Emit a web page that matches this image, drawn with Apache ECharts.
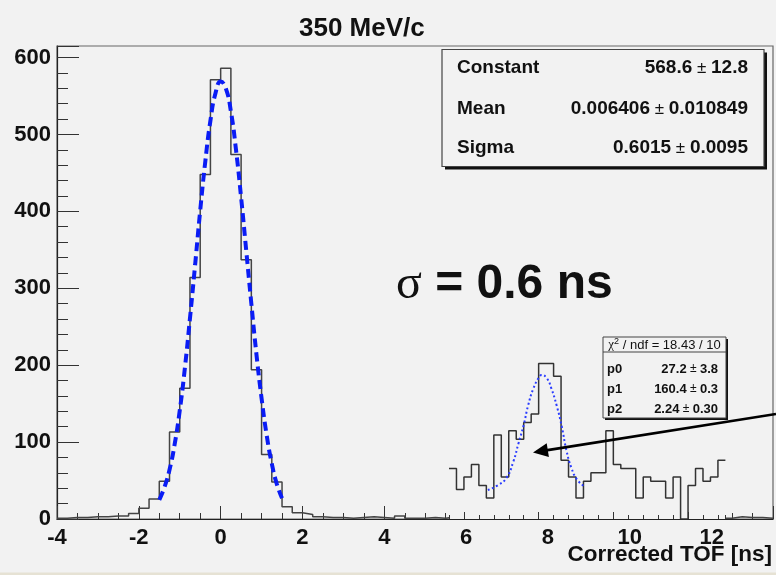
<!DOCTYPE html>
<html>
<head>
<meta charset="utf-8">
<script src="https://cdn.jsdelivr.net/npm/echarts@6/dist/echarts.min.js"></script>
<style>
  html, body { margin: 0; padding: 0; background: #f2f2f2; }
  #chart { width: 776px; height: 575px; }
</style>
</head>
<body>
<div id="chart"></div>
<script>
// main TOF histogram, 0.25 ns bins from -4 ns; null = hidden behind the inset
const mainStart = -4
const mainBinWidth = 0.25
const mainCounts = [
  1, 2, 2, 3, 3, 4, 4, 7, 14, 26,
  49, 113, 170, 314, 448, 571, 586, 474, 337, 194,
  84, 48, 16, 8, 6, 3, 2, 2, 1, 2,
  3, 2, 1, 4, 1, 1, 2, 1, 3,
  null, null, null, null, null, null, null, null, null, null, null, null, null,
  null, null, null, null, null, null, null, null, null, null, null, null, null,
  1, 3, 2, 2, 1
]

// gaussian fit
const fitX = [-1.5, -1.375, -1.25, -1.125, -1, -0.875, -0.75, -0.625, -0.5, -0.375, -0.25, -0.125, 0,
  0.125, 0.25, 0.375, 0.5, 0.625, 0.75, 0.875, 1, 1.125, 1.25, 1.375, 1.5]
const fitY = [25, 41, 64, 97, 141, 196, 261, 330, 401, 465, 518, 554, 569,
  560, 530, 480, 418, 349, 280, 214, 157, 109, 72, 45, 27]

// inset histogram (raw units, 1 unit bins starting at 148)
const insetStart = 148
const insetCounts = [
  12, 7, 10, 13, 8, 5, 20, 10, 21, 19,
  23, 25, 37, 37, 34, 14, 10, 5, 9, 11,
  11, 21, 13, 12, 12, 5, 10, 9, 9, 5,
  10, 0, 8, 12, 9, 10, 14
]
const insetFitX = [153.2, 154.6, 155.7, 156.6, 157.3, 158.0, 158.6, 159.3, 160.0, 160.4,
  161.1, 161.7, 162.4, 163.1, 163.7, 164.4, 165.1, 166.0]
const insetFitY = [6.9, 8.1, 9.8, 13.6, 18.0, 22.4, 27.1, 31.1, 33.6, 34.3,
  33.5, 31.1, 27.1, 22.0, 16.5, 12.1, 9.5, 7.9]

const mainTicks = [-4, -2, 0, 2, 4, 6, 8, 10, 12]
const insetMajorTicks = [150, 160, 170, 180]

const FONT = 'Liberation Sans'
const BG = '#f2f2f2'

function outline(start, width, counts) {
  const pts = []
  counts.forEach((v, i) => {
    const lo = start + i * width
    if (v === null) { pts.push([lo, '-']); return }
    pts.push([lo, v], [lo + width, v])
  })
  return pts
}

const chart = echarts.init(document.getElementById('chart'), null, { renderer: 'canvas' })

const tickStyle = { color: '#333', width: 1 }
const txt = (x, y, text, extra) => Object.assign({
  type: 'text', z: 100,
  style: Object.assign({ x, y, text, fill: '#111', font: 'bold 19px ' + FONT, verticalAlign: 'middle' }, extra || {})
})

chart.setOption({
  backgroundColor: BG,
  animation: false,
  title: {
    text: '350 MeV/c', left: 294, top: 11,
    textStyle: { fontFamily: FONT, fontWeight: 'bold', fontSize: 26, color: '#111' }
  },
  grid: [
    { left: 57, right: 2, top: 46, bottom: 56, show: true, borderColor: '#666', borderWidth: 1.2, backgroundColor: 'transparent' },
    { left: 449, width: 276.4, top: 351, bottom: 56, show: true, borderWidth: 0, backgroundColor: BG, z: 10 }
  ],
  xAxis: [
    {
      gridIndex: 0, type: 'value', min: -4, max: 13.5, interval: 2, position: 'bottom',
      axisLine: { onZero: false, lineStyle: { color: '#222', width: 1.2 } },
      axisTick: { inside: true, length: 13, lineStyle: tickStyle },
      splitLine: { show: false },
      axisLabel: {
        margin: 8, fontFamily: FONT, fontWeight: 'bold', fontSize: 22, color: '#111',
        formatter: v => mainTicks.includes(v) ? String(v) : ''
      }
    },
    {
      gridIndex: 0, type: 'value', min: -4, max: 13.5, interval: 0.5, position: 'bottom',
      axisLine: { show: false, onZero: false }, axisLabel: { show: false }, splitLine: { show: false },
      axisTick: { inside: true, length: 6, lineStyle: tickStyle }
    },
    {
      gridIndex: 1, type: 'value', min: 148, max: 185, interval: 2, position: 'bottom', z: 11,
      axisLine: { onZero: false, lineStyle: { color: '#222', width: 1.2 } },
      axisLabel: { show: false }, splitLine: { show: false },
      axisTick: { inside: true, length: 4, lineStyle: tickStyle }
    },
    {
      gridIndex: 1, type: 'value', min: 148, max: 185, position: 'bottom', z: 11,
      axisLine: { show: false, onZero: false }, axisLabel: { show: false, customValues: insetMajorTicks }, splitLine: { show: false },
      axisTick: { inside: true, length: 7, lineStyle: tickStyle, customValues: insetMajorTicks }
    }
  ],
  yAxis: [
    {
      gridIndex: 0, type: 'value', min: 0, max: 615, interval: 100, position: 'left',
      axisLine: { show: true, onZero: false, lineStyle: { color: '#222', width: 1.2 } },
      axisTick: { inside: true, length: 22, lineStyle: tickStyle },
      splitLine: { show: false },
      axisLabel: {
        margin: 6, fontFamily: FONT, fontWeight: 'bold', fontSize: 22, color: '#111',
        formatter: v => v % 100 === 0 ? String(v) : ''
      }
    },
    {
      gridIndex: 0, type: 'value', min: 0, max: 615, interval: 20, position: 'left',
      axisLine: { show: false, onZero: false }, axisLabel: { show: false }, splitLine: { show: false },
      axisTick: { inside: true, length: 11, lineStyle: tickStyle }
    },
    {
      gridIndex: 1, type: 'value', min: 0, max: 40, show: false,
      axisLine: { onZero: false }
    }
  ],
  series: [
    {
      type: 'line', xAxisIndex: 0, yAxisIndex: 0, symbol: 'none', z: 2,
      data: outline(mainStart, mainBinWidth, mainCounts),
      lineStyle: { color: '#444', width: 1.5 }
    },
    {
      type: 'line', xAxisIndex: 0, yAxisIndex: 0, symbol: 'none', z: 3, smooth: true,
      data: fitX.map((x, i) => [x, fitY[i]]),
      lineStyle: { color: '#0a1cf5', width: 4, type: [9, 5] }
    },
    {
      type: 'line', xAxisIndex: 2, yAxisIndex: 2, symbol: 'none', z: 12,
      data: outline(insetStart, 1, insetCounts),
      lineStyle: { color: '#333', width: 1.5 }
    },
    {
      type: 'line', xAxisIndex: 2, yAxisIndex: 2, symbol: 'none', z: 13, smooth: true,
      data: insetFitX.map((x, i) => [x, insetFitY[i]]),
      lineStyle: { color: '#2a3cff', width: 2, type: [2, 2.5] }
    }
  ],
  graphic: [
    // main fit stats box
    { type: 'rect', z: 99, shape: { x: 445, y: 52.5, width: 322, height: 117 }, style: { fill: '#111' } },
    { type: 'rect', z: 99, shape: { x: 442, y: 49.5, width: 322, height: 117 }, style: { fill: BG, stroke: '#444', lineWidth: 1.2 } },
    txt(457, 68, 'Constant'),
    txt(457, 109, 'Mean'),
    txt(457, 148, 'Sigma'),
    txt(748, 68, '{b|568.6}{p| ± }{b|12.8}', { align: 'right', rich: { b: { font: 'bold 19px ' + FONT, fill: '#111' }, p: { font: '17px ' + FONT, fill: '#111' } } }),
    txt(748, 109, '{b|0.006406}{p| ± }{b|0.010849}', { align: 'right', rich: { b: { font: 'bold 19px ' + FONT, fill: '#111' }, p: { font: '17px ' + FONT, fill: '#111' } } }),
    txt(748, 148, '{b|0.6015}{p| ± }{b|0.0095}', { align: 'right', rich: { b: { font: 'bold 19px ' + FONT, fill: '#111' }, p: { font: '17px ' + FONT, fill: '#111' } } }),
    // sigma annotation
    txt(396, 285, '{s|σ}{b| = 0.6 ns}', { rich: { s: { font: '48px "Liberation Serif"', fill: '#111' }, b: { font: 'bold 48px ' + FONT, fill: '#111' } } }),
    // inset fit stats box
    { type: 'rect', z: 99, shape: { x: 605, y: 339, width: 123, height: 81 }, style: { fill: '#111' } },
    { type: 'rect', z: 99, shape: { x: 603, y: 337, width: 123, height: 81 }, style: { fill: BG, stroke: '#444', lineWidth: 1 } },
    { type: 'line', z: 100, shape: { x1: 603, y1: 352, x2: 726, y2: 352 }, style: { stroke: '#444', lineWidth: 1 } },
    txt(664.5, 345, '{c|χ}{sup|2}{n| / ndf = 18.43 / 10}', { align: 'center', rich: { c: { font: '13px "Liberation Serif"', fill: '#111' }, sup: { font: '9px ' + FONT, fill: '#111', verticalAlign: 'top', padding: [0, 0, 6, 0] }, n: { font: '13px ' + FONT, fill: '#111' } } }),
    txt(607, 369, 'p0', { font: 'bold 13px ' + FONT }),
    txt(607, 389, 'p1', { font: 'bold 13px ' + FONT }),
    txt(607, 409, 'p2', { font: 'bold 13px ' + FONT }),
    txt(718, 369, '{b|27.2}{p| ± }{b|3.8}', { align: 'right', rich: { b: { font: 'bold 13px ' + FONT, fill: '#111' }, p: { font: '12px ' + FONT, fill: '#111' } } }),
    txt(718, 389, '{b|160.4}{p| ± }{b|0.3}', { align: 'right', rich: { b: { font: 'bold 13px ' + FONT, fill: '#111' }, p: { font: '12px ' + FONT, fill: '#111' } } }),
    txt(718, 409, '{b|2.24}{p| ± }{b|0.30}', { align: 'right', rich: { b: { font: 'bold 13px ' + FONT, fill: '#111' }, p: { font: '12px ' + FONT, fill: '#111' } } }),
    // arrow pointing at the inset peak
    { type: 'line', z: 100, shape: { x1: 776, y1: 414, x2: 546, y2: 450.4 }, style: { stroke: '#000', lineWidth: 2.6 } },
    { type: 'polygon', z: 100, shape: { points: [[533, 452.5], [548.9, 457.1], [546.7, 443.3]] }, style: { fill: '#000' } },
    // axis title
    txt(772, 555, 'Corrected TOF [ns]', { align: 'right', font: 'bold 22.5px ' + FONT }),
    // strip at the bottom edge of the screenshot
    { type: 'rect', z: 100, shape: { x: 0, y: 572.5, width: 776, height: 3 }, style: { fill: '#e6e2d4' } }
  ]
})
</script>
</body>
</html>
